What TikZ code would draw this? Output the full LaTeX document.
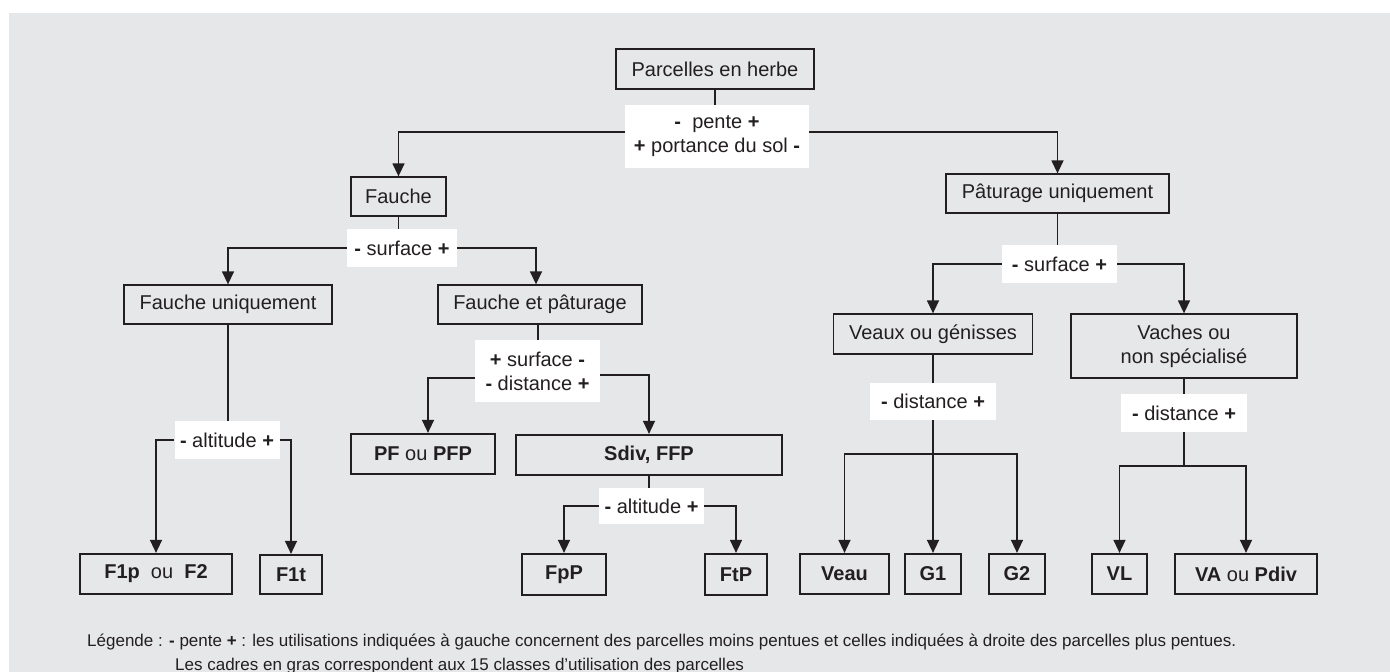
\documentclass[tikz,border=0pt]{standalone}
\usepackage{fontspec}
\setmainfont{Liberation Sans}
\usetikzlibrary{arrows.meta}
\definecolor{bggray}{HTML}{E6E7E9}
\definecolor{ink}{HTML}{231F20}
\begin{document}
\begin{tikzpicture}[x=1pt,y=-1pt,
  font=\fontsize{20}{24}\selectfont,
  box/.style={draw=ink, line width=1.3pt, text=ink, inner sep=0pt, align=center},
  boldbox/.style={draw=ink, line width=2.2pt, text=ink, inner sep=0pt, align=center},
  lab/.style={fill=white, text=ink, inner sep=0pt, align=center},
  conn/.style={draw=ink, line width=1.4pt},
  arr/.style={conn, -{Triangle[length=13pt,width=12pt]}},
  legend/.style={anchor=west, text=ink, inner sep=0pt, font=\fontsize{17}{20}\selectfont}
]
\useasboundingbox (0,0) rectangle (1390,672);
\fill[bggray] (9,13) rectangle (1390,672);

% boxes
\node[box, minimum width=198pt, minimum height=40pt] (parc) at (715,69) {Parcelles en herbe};
\node[box, minimum width=95pt, minimum height=39pt] (fauche) at (398.5,196.5) {Fauche};
\node[box, minimum width=208pt, minimum height=39pt] (fu) at (228,304.5) {Fauche uniquement};
\node[box, minimum width=204pt, minimum height=39pt] (fp) at (540,304.5) {Fauche et pâturage};
\node[box, minimum width=223pt, minimum height=39pt] (pat) at (1057.5,193.5) {Pâturage uniquement};
\node[box, minimum width=199pt, minimum height=40pt] (veaux) at (933,334) {Veaux ou génisses};
\node[box, minimum width=226pt, minimum height=64pt] (vaches) at (1184,346) {Vaches ou\\non spécialisé};

\node[boldbox, minimum width=152pt, minimum height=40pt] (f1p) at (156,574) {\textbf{F1p}\ \ ou\ \ \textbf{F2}};
\node[boldbox, minimum width=62pt, minimum height=39pt] (f1t) at (291,574.5) {\textbf{F1t}};
\node[boldbox, minimum width=144pt, minimum height=40pt] (pf) at (423,454) {\textbf{PF} ou \textbf{PFP}};
\node[boldbox, minimum width=266pt, minimum height=40pt] (sdiv) at (649,455) {\textbf{Sdiv, FFP}};
\node[boldbox, minimum width=84pt, minimum height=41pt] (fpp) at (564,574.5) {\textbf{FpP}};
\node[boldbox, minimum width=62pt, minimum height=41pt] (ftp) at (736,574.5) {\textbf{FtP}};
\node[boldbox, minimum width=89pt, minimum height=40pt] (veau) at (844.5,574) {\textbf{Veau}};
\node[boldbox, minimum width=56pt, minimum height=40pt] (g1) at (933,574) {\textbf{G1}};
\node[boldbox, minimum width=56pt, minimum height=40pt] (g2) at (1017,574) {\textbf{G2}};
\node[boldbox, minimum width=55pt, minimum height=40pt] (vl) at (1119.5,574) {\textbf{VL}};
\node[boldbox, minimum width=142pt, minimum height=40pt] (va) at (1246,574) {\textbf{VA} ou \textbf{Pdiv}};

% labels
\node[lab, minimum width=184pt, minimum height=63pt] (lab1) at (717,136.5) {\textbf{-}\ \ pente \textbf{+}\\\textbf{+} portance du sol \textbf{-}};
\node[lab, minimum width=110pt, minimum height=38pt] (lab2) at (402,248) {\textbf{-} surface \textbf{+}};
\node[lab, minimum width=115pt, minimum height=38pt] (lab3) at (1059.5,264) {\textbf{-} surface \textbf{+}};
\node[lab, minimum width=105pt, minimum height=38pt] (lab4) at (227,440) {\textbf{-} altitude \textbf{+}};
\node[lab, minimum width=125pt, minimum height=62pt] (lab5) at (537.5,371) {\textbf{+} surface \textbf{-}\\\textbf{-} distance \textbf{+}};
\node[lab, minimum width=105pt, minimum height=36pt] (lab6) at (651.5,506) {\textbf{-} altitude \textbf{+}};
\node[lab, minimum width=126pt, minimum height=37pt] (lab7) at (933,401.5) {\textbf{-} distance \textbf{+}};
\node[lab, minimum width=126pt, minimum height=38pt] (lab8) at (1184,413) {\textbf{-} distance \textbf{+}};

\coordinate (j7) at (933,454);
\coordinate (j8) at (1184,466);

% connectors
\draw[conn] (parc.south) -- (parc.south |- lab1.north);
\draw[arr] ([yshift=4.5pt]lab1.west) -| (fauche);
\draw[arr] ([yshift=4.5pt]lab1.east) -| (pat);
\draw[conn] (fauche.south) -- (fauche.south |- lab2.north);
\draw[arr] (lab2.west) -| (fu);
\draw[arr] (lab2.east) -| ([xshift=-4pt]fp.north);
\draw[conn] (fu.south) -- (fu.south |- lab4.north);
\draw[arr] (lab4.west) -| (f1p);
\draw[arr] (lab4.east) -| (f1t);
\draw[conn] ([xshift=-2pt]fp.south) -- ([xshift=-2pt]fp.south |- lab5.north);
\draw[arr] ([yshift=-7pt]lab5.west) -| ([xshift=5pt]pf.north);
\draw[arr] ([yshift=-4pt]lab5.east) -| (sdiv);
\draw[conn] (sdiv.south) -- (sdiv.south |- lab6.north);
\draw[arr] (lab6.west) -| (fpp);
\draw[arr] (lab6.east) -| (ftp);
\draw[conn] (pat.south) -- (pat.south |- lab3.north);
\draw[arr] (lab3.west) -| (veaux);
\draw[arr] (lab3.east) -| (vaches);
\draw[conn] (veaux) -- (lab7);
\draw[conn] (lab7) -- (j7);
\draw[arr] (j7) -- (g1);
\draw[arr] (j7) -| (veau);
\draw[arr] (j7) -| (g2);
\draw[conn] (vaches) -- (lab8);
\draw[conn] (lab8) -- (j8);
\draw[arr] (j8) -| (vl);
\draw[arr] (j8) -| (va);

% legend
\node[legend] (leg1) at (87,642) {Légende : \textbf{-} pente \textbf{+} : les utilisations indiquées à gauche concernent des parcelles moins pentues et celles indiquées à droite des parcelles plus pentues.};
\node[legend] (leg2) at (175,666) {Les cadres en gras correspondent aux 15 classes d’utilisation des parcelles};
\end{tikzpicture}
\end{document}
